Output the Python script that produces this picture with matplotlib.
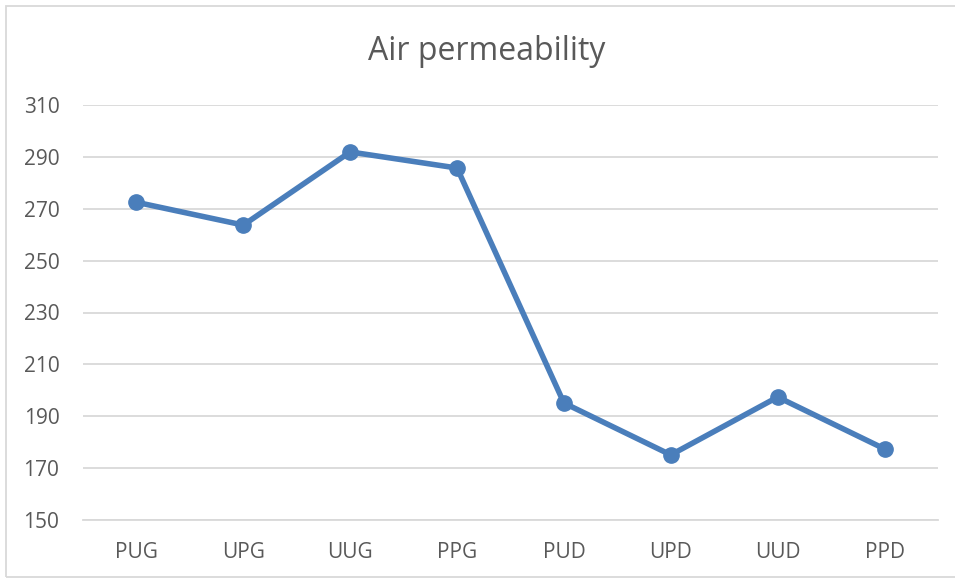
import matplotlib
matplotlib.use("Agg")
import matplotlib.pyplot as plt
from matplotlib.patches import Rectangle

categories = ["PUG", "UPG", "UUG", "PPG", "PUD", "UPD", "UUD", "PPD"]
air_perm = [272.5, 263.7, 291.9, 285.7, 195.1, 175.1, 197.4, 177.4]
yticks = [150, 170, 190, 210, 230, 250, 270, 290, 310]

txt = "#595959"
grid = "#d9d9d9"
blue = "#4a7ebb"

plt.rcParams["font.family"] = ["Open Sans", "DejaVu Sans"]

fig = plt.figure(figsize=(9.55, 5.79), dpi=100)
ax = fig.add_axes([83 / 955, 59 / 579, 855 / 955, 415 / 579])

x = list(range(len(categories)))
ax.plot(x, air_perm, color=blue, lw=4.0, marker="o", ms=11, zorder=3,
        solid_capstyle="round")

ax.set_xlim(-0.5, len(categories) - 0.5)
ax.set_ylim(150, 310)
ax.set_yticks(yticks)
ax.set_xticks(x)
ax.set_xticklabels(categories)
ax.tick_params(length=0, labelsize=15, colors=txt)
ax.tick_params(axis="x", pad=16)
ax.tick_params(axis="y", pad=17)
ax.grid(axis="y", color=grid, lw=1.3)
ax.set_axisbelow(True)
for s in ["top", "right", "left"]:
    ax.spines[s].set_visible(False)
ax.spines["bottom"].set_color(grid)
ax.spines["bottom"].set_linewidth(1.3)

fig.text(487 / 955, 1 - 52 / 579, "Air permeability", ha="center", va="center",
         fontsize=23, color=txt)

# chart border
fig.patches.append(Rectangle((6 / 955, 2 / 579), 1.0, 1 - 8 / 579,
                             transform=fig.transFigure, fill=False,
                             edgecolor=grid, lw=1.3))

fig.savefig("out.png", dpi=100)
